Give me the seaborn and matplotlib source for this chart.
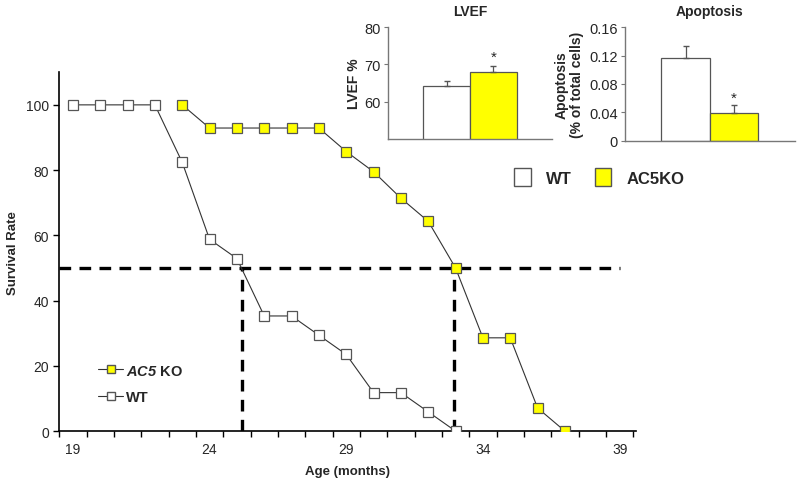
import numpy as np
import pandas as pd
import matplotlib
matplotlib.use('Agg')
import matplotlib.pyplot as plt
import seaborn as sns
from matplotlib.lines import Line2D
from matplotlib.patches import Patch

# survival data (months, % surviving)
wt_age = [19, 20, 21, 22, 23, 24, 25, 26, 27, 28, 29, 30, 31, 32, 33]
wt_surv = [100, 100, 100, 100, 82.4, 58.8, 52.9, 35.3, 35.3, 29.4, 23.5, 11.8, 11.8, 5.9, 0]
ko_age = [23, 24, 25, 26, 27, 28, 29, 30, 31, 32, 33, 34, 35, 36, 37]
ko_surv = [100, 92.9, 92.9, 92.9, 92.9, 92.9, 85.7, 79.5, 71.4, 64.3, 50, 28.6, 28.6, 7.1, 0]

# median survival markers
median_wt = 25.2
median_ko = 32.95

# inset bar data
groups = ['WT', 'AC5KO']
lvef = [64.2, 68.1]
lvef_err = [1.3, 1.6]
apop = [0.116, 0.0395]
apop_err = [0.018, 0.0105]

sns.set_style('white')
plt.rcParams['font.family'] = ['Liberation Sans', 'DejaVu Sans']
plt.rcParams['mathtext.fontset'] = 'custom'
plt.rcParams['mathtext.bfit'] = 'Liberation Sans:italic:bold'

yellow = '#ffff00'
edge = '#555555'

fig = plt.figure(figsize=(8, 4.85), dpi=100)

# ---- main survival plot ----
ax = fig.add_axes([0.074, 0.109, 0.721, 0.74])
surv = pd.concat([
    pd.DataFrame({'age': ko_age, 'surv': ko_surv, 'grp': 'AC5 KO'}),
    pd.DataFrame({'age': wt_age, 'surv': wt_surv, 'grp': 'WT'}),
])
sns.lineplot(data=surv, x='age', y='surv', hue='grp', palette={'AC5 KO': '#333333', 'WT': '#333333'},
             lw=0.8, legend=False, ax=ax, zorder=3)
ax.plot(ko_age, ko_surv, ls='none', marker='s', ms=7, mfc=yellow, mec=edge, mew=0.9, zorder=4)
ax.plot(wt_age, wt_surv, ls='none', marker='s', ms=7, mfc='white', mec=edge, mew=0.9, zorder=4)

ax.plot([18.5, 39], [50, 50], ls=(0, (3.5, 2.5)), color='black', lw=2.4, zorder=2)
ax.plot([median_wt, median_wt], [0, 50], ls=(0, (3.5, 2.5)), color='black', lw=2.4, zorder=2)
ax.plot([median_ko, median_ko], [0, 50], ls=(0, (3.5, 2.5)), color='black', lw=2.4, zorder=2)

ax.set_xlim(18.5, 39.6)
ax.set_ylim(0, 110)
ax.set_xticks([19, 24, 29, 34, 39])
ax.set_xticks(np.arange(18.5, 39.6, 1), minor=True)
ax.set_yticks([0, 20, 40, 60, 80, 100])
ax.tick_params(axis='x', which='major', length=0, labelsize=10, pad=8)
ax.tick_params(axis='x', which='minor', length=4, width=1, direction='out', bottom=True, color='black')
ax.tick_params(axis='y', length=4, width=1, direction='out', left=True, labelsize=10, color='black')
ax.spines[['top', 'right']].set_visible(False)
for s in ['left', 'bottom']:
    ax.spines[s].set_color('black')
    ax.spines[s].set_linewidth(1.2)
ax.set_xlabel('Age (months)', fontweight='bold', fontsize=9.5, labelpad=6)
ax.set_ylabel('Survival Rate', fontweight='bold', fontsize=9.5, labelpad=5)

handles = [
    Line2D([], [], color='#333333', lw=0.8, marker='s', ms=6, mfc=yellow, mec=edge),
    Line2D([], [], color='#333333', lw=0.8, marker='s', ms=6, mfc='white', mec=edge),
]
ax.legend(handles, [r'$\mathbfit{AC5}$ KO', 'WT'], loc='upper left', bbox_to_anchor=(0.045, 0.225),
          frameon=False, handlelength=1.7, handletextpad=0.2, labelspacing=0.85,
          prop={'weight': 'bold', 'size': 10.5})

# ---- LVEF inset ----
ax1 = fig.add_axes([0.485, 0.711, 0.205, 0.231])
df1 = pd.DataFrame({'grp': groups, 'val': lvef})
sns.barplot(data=df1, x='grp', y='val', hue='grp', palette=['white', yellow], width=1, saturation=1,
            edgecolor=edge, linewidth=0.9, legend=False, ax=ax1)
ax1.errorbar([0, 1], lvef, yerr=[[0, 0], lvef_err], fmt='none', ecolor=edge, elinewidth=0.9, capsize=2.5)
ax1.text(1, lvef[1] + lvef_err[1] + 0.6, '*', ha='center', va='bottom', fontsize=11)
ax1.set_xlim(-1.245, 2.245)
ax1.set_ylim(50, 80)
ax1.set_yticks([60, 70, 80])
ax1.set_xticks([])
ax1.set_xlabel('')
ax1.set_ylabel('LVEF %', fontweight='bold', fontsize=10, labelpad=3)
ax1.set_title('LVEF', fontweight='bold', fontsize=10, pad=9)

# ---- Apoptosis inset ----
ax2 = fig.add_axes([0.781, 0.708, 0.213, 0.234])
df2 = pd.DataFrame({'grp': groups, 'val': apop})
sns.barplot(data=df2, x='grp', y='val', hue='grp', palette=['white', yellow], width=1, saturation=1,
            edgecolor=edge, linewidth=0.9, legend=False, ax=ax2)
ax2.errorbar([0, 1], apop, yerr=[[0, 0], apop_err], fmt='none', ecolor=edge, elinewidth=0.9, capsize=2.5)
ax2.text(1, apop[1] + apop_err[1] + 0.001, '*', ha='center', va='bottom', fontsize=11)
ax2.set_xlim(-1.26, 2.27)
ax2.set_ylim(0, 0.16)
ax2.set_yticks([0, 0.04, 0.08, 0.12, 0.16])
ax2.set_yticklabels(['0', '0.04', '0.08', '0.12', '0.16'])
ax2.set_xticks([])
ax2.set_xlabel('')
ax2.set_ylabel('Apoptosis\n(% of total cells)', fontweight='bold', fontsize=10, linespacing=1.1)
ax2.set_title('Apoptosis', fontweight='bold', fontsize=10, pad=9)

for a in [ax1, ax2]:
    a.spines[['top', 'right']].set_visible(False)
    for s in ['left', 'bottom']:
        a.spines[s].set_color('#777777')
        a.spines[s].set_linewidth(1)
    a.tick_params(axis='y', length=3, width=0.8, direction='out', left=True, labelsize=10.5, color='#777777', pad=2)

fig.legend([Patch(facecolor='white', edgecolor=edge, lw=1), Patch(facecolor=yellow, edgecolor=edge, lw=1)],
           ['WT', 'AC5KO'], loc='center', bbox_to_anchor=(0.749, 0.633), ncol=2, frameon=False,
           handlelength=1.0, handleheight=1.25, handletextpad=0.9, columnspacing=1.4,
           prop={'weight': 'bold', 'size': 12})

fig.savefig('out.png', dpi=100)
